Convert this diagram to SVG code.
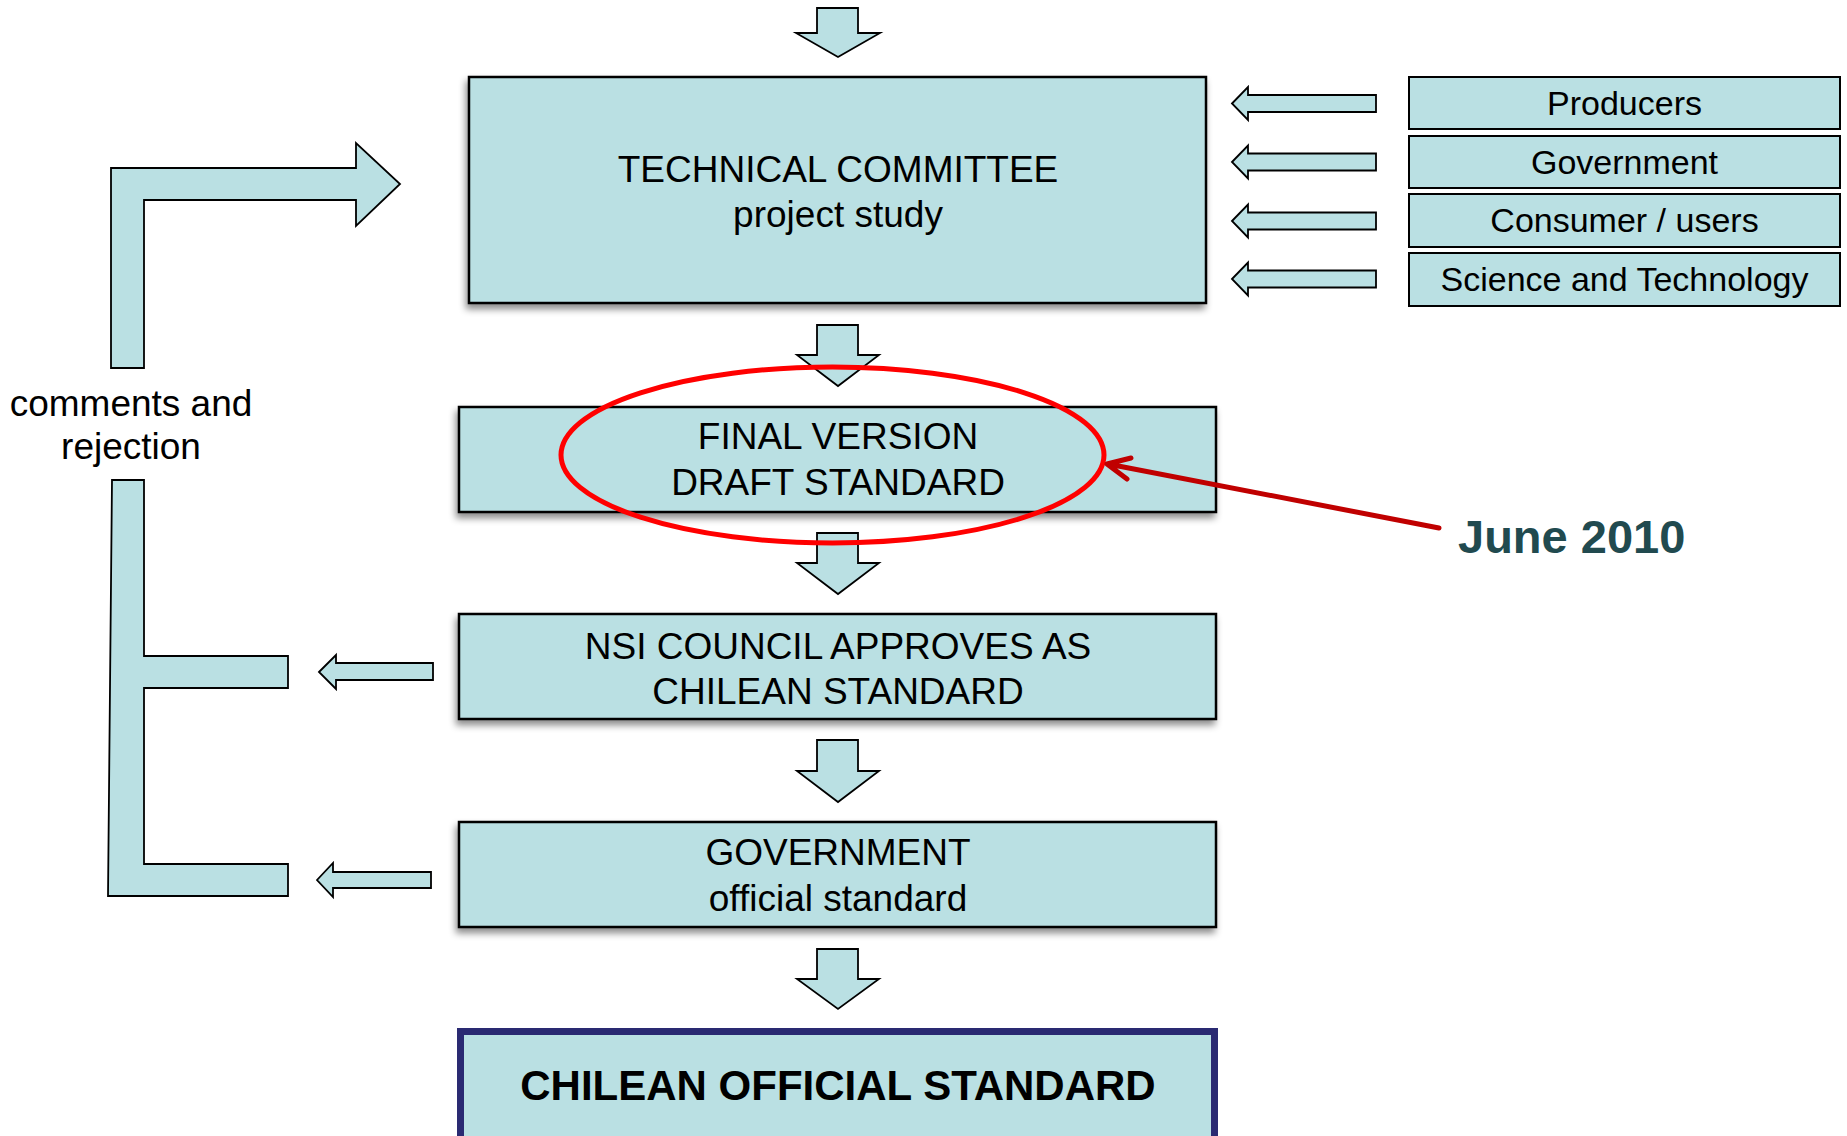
<svg xmlns="http://www.w3.org/2000/svg" width="1847" height="1136" viewBox="0 0 1847 1136">
<defs>
<style>
.box{fill:#BAE0E3;stroke:#000;stroke-width:2.5}
.src{fill:#BAE0E3;stroke:#000;stroke-width:2}
.blk{fill:#BAE0E3;stroke:#000;stroke-width:1.8;stroke-linejoin:miter}
.t{font-family:"Liberation Sans",Arial,sans-serif;font-size:37px;fill:#000;text-anchor:middle}
.s{font-family:"Liberation Sans",Arial,sans-serif;font-size:34px;fill:#000;text-anchor:middle}
</style>
<filter id="sh" x="-5%" y="-10%" width="110%" height="125%">
<feDropShadow dx="-2" dy="5" stdDeviation="3.5" flood-color="#000" flood-opacity="0.45"/>
</filter>
</defs>
<rect width="1847" height="1136" fill="#fff"/>

<g id="connectors">
<polygon class="blk" points="817,8 858,8 858,33 880,33 838,57 796,33 817,33"/>
<polygon class="blk" points="817,325 858,325 858,355 879,355 838,386 797,355 817,355"/>
<polygon class="blk" points="817,533 858,533 858,563 879,563 838,594 797,563 817,563"/>
<polygon class="blk" points="817,740 858,740 858,771 879,771 838,802 797,771 817,771"/>
<polygon class="blk" points="817,949 858,949 858,979 879,979 838,1009 797,979 817,979"/>
<polygon class="blk" points="1232,103.5 1248,87 1248,95 1376,95 1376,112 1248,112 1248,120"/>
<polygon class="blk" points="1232,162 1248,145.5 1248,153.5 1376,153.5 1376,170.5 1248,170.5 1248,178.5"/>
<polygon class="blk" points="1232,221 1248,204.5 1248,212.5 1376,212.5 1376,229.5 1248,229.5 1248,237.5"/>
<polygon class="blk" points="1232,279 1248,262.5 1248,270.5 1376,270.5 1376,287.5 1248,287.5 1248,295.5"/>
<polygon class="blk" points="319,672 336,655 336,663 433,663 433,680 336,680 336,689"/>
<polygon class="blk" points="317,880 333,863 333,872 431,872 431,888 333,888 333,897"/>
<polygon class="blk" points="111,368 111,168 356,168 356,143 400,184 356,226 356,200 144,200 144,368"/>
<polygon class="blk" points="112,480 144,480 144,656 288,656 288,688 144,688 144,864 288,864 288,896 108,896"/>
</g>

<g id="tech-committee">
<rect class="box" filter="url(#sh)" x="469" y="77" width="737" height="226"/>
<text class="t" x="838" y="182">TECHNICAL COMMITTEE</text>
<text class="t" x="838" y="227">project study</text>
</g>

<g id="producers">
<rect class="src" x="1409" y="77" width="431" height="52"/>
<text class="s" x="1624.5" y="115">Producers</text>
</g>
<g id="government-src">
<rect class="src" x="1409" y="136" width="431" height="52"/>
<text class="s" x="1624.5" y="174">Government</text>
</g>
<g id="consumers">
<rect class="src" x="1409" y="194" width="431" height="53"/>
<text class="s" x="1624.5" y="232">Consumer / users</text>
</g>
<g id="science">
<rect class="src" x="1409" y="253" width="431" height="53"/>
<text class="s" x="1624.5" y="291">Science and Technology</text>
</g>

<g id="comments-label">
<text class="t" x="131" y="416">comments and</text>
<text class="t" x="131" y="459">rejection</text>
</g>

<g id="final-version">
<rect class="box" filter="url(#sh)" x="459" y="407" width="757" height="105"/>
<text class="t" x="838" y="449">FINAL VERSION</text>
<text class="t" x="838" y="495">DRAFT STANDARD</text>
</g>

<g id="nsi-council">
<rect class="box" filter="url(#sh)" x="459" y="614" width="757" height="105"/>
<text class="t" x="838" y="659">NSI COUNCIL APPROVES AS</text>
<text class="t" x="838" y="704">CHILEAN STANDARD</text>
</g>

<g id="government">
<rect class="box" filter="url(#sh)" x="459" y="822" width="757" height="105"/>
<text class="t" x="838" y="865">GOVERNMENT</text>
<text class="t" x="838" y="911">official standard</text>
</g>

<g id="chilean-official">
<rect x="460.5" y="1031.5" width="754" height="120" fill="#BAE0E3" stroke="#2A2A72" stroke-width="7"/>
<text x="838" y="1100" font-family="Liberation Sans, Arial, sans-serif" font-size="42" font-weight="bold" text-anchor="middle" fill="#000">CHILEAN OFFICIAL STANDARD</text>
</g>

<g id="highlight">
<ellipse cx="832.5" cy="455" rx="271.5" ry="88" fill="none" stroke="#FF0000" stroke-width="5"/>
<path d="M1439,528 L1108,464 M1131,458 L1107,464 L1127,479" fill="none" stroke="#C00000" stroke-width="5" stroke-linecap="round" stroke-linejoin="round"/>
</g>

<g id="june-2010">
<text x="1458" y="553" font-family="Liberation Sans, Arial, sans-serif" font-size="47" font-weight="bold" fill="#214A4F">June 2010</text>
</g>
</svg>
